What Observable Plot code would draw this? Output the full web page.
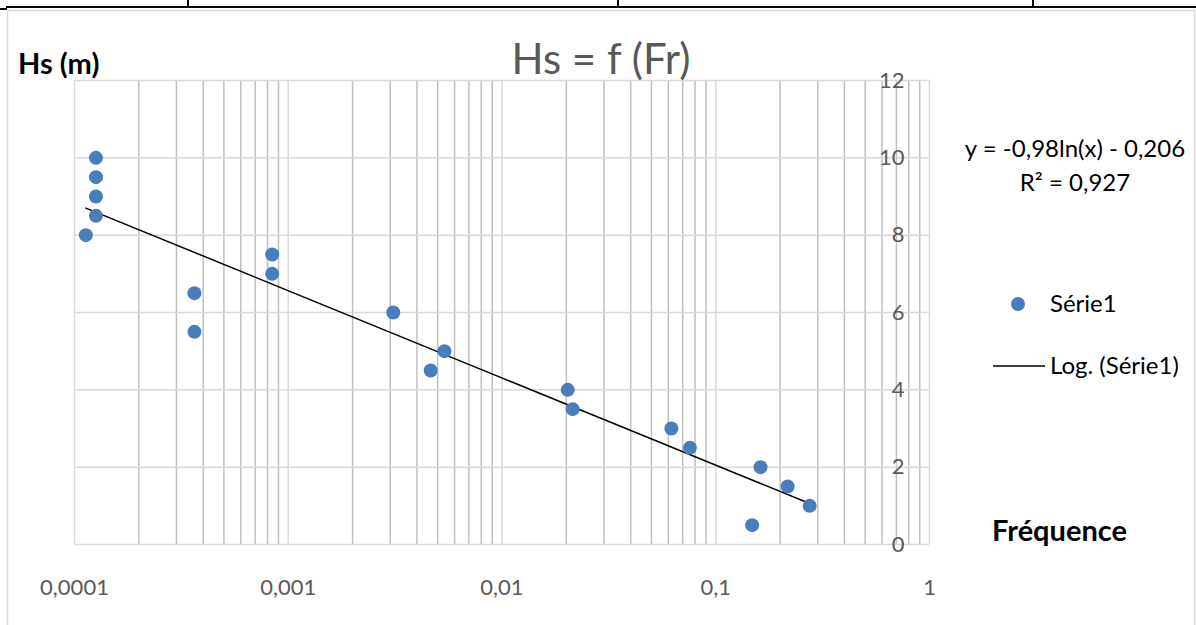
<!DOCTYPE html>
<html><head><meta charset="utf-8">
<script src="https://cdn.jsdelivr.net/npm/d3@7"></script>
<script src="https://cdn.jsdelivr.net/npm/@observablehq/plot@0.6"></script>
<style>
body{margin:0;background:#fff;overflow:hidden}
#wrap{position:relative;width:1196px;height:625px;overflow:hidden;background:#fff}
#wrap svg{position:absolute;left:0;top:0}
</style></head><body><div id="wrap"></div>
<script>
// Data
const freq = [0.000126, 0.000126, 0.000126, 0.000126, 0.000113, 0.000364, 0.000364, 0.000841, 0.000841, 0.0031, 0.00464, 0.00538, 0.0203, 0.0214, 0.062, 0.0757, 0.162, 0.217, 0.275, 0.148];
const hs   = [10, 9.5, 9, 8.5, 8, 6.5, 5.5, 7.5, 7, 6, 4.5, 5, 4, 3.5, 3, 2.5, 2, 1.5, 1, 0.5];
const trendX = [0.000113, 0.275];
const trendY = [8.70, 1.06];
const xTickValues = [0.0001, 0.001, 0.01, 0.1, 1];
const xTickLabels = ["0,0001", "0,001", "0,01", "0,1", "1"];
const yTickValues = [0, 2, 4, 6, 8, 10, 12];
const mult = [2, 3, 4, 5, 6, 7, 8, 9];

const points = freq.map((f, i) => ({x: f, y: hs[i]}));
const trend = trendX.map((t, i) => ({x: t, y: trendY[i]}));
const minor = xTickValues.slice(0, -1).flatMap(d => mult.map(m => m * d));

const chart = Plot.plot({
  width: 1196, height: 625,
  marginLeft: 74, marginRight: 267, marginTop: 80, marginBottom: 81,
  x: {type: "log", domain: [1e-4, 1]},
  y: {domain: [0, 12]},
  style: {fontFamily: "Lato, sans-serif", fontSize: "22px", color: "#595959", background: "transparent"},
  marks: [
    Plot.ruleX(minor, {stroke: "#bfbfbf", strokeWidth: 1.5}),
    Plot.ruleX(xTickValues, {stroke: "#d9d9d9", strokeWidth: 1.5}),
    Plot.ruleY(yTickValues, {stroke: "#d9d9d9", strokeWidth: 1.5}),
    Plot.axisX({ticks: xTickValues, tickFormat: d => xTickLabels[xTickValues.indexOf(d)], tickSize: 0, tickPadding: 35, label: null, fill: "#595959"}),
    Plot.axisY({ticks: yTickValues, anchor: "right", tickSize: 0, tickPadding: 0, textAnchor: "end", dx: -25, label: null, fill: "#595959"}),
    Plot.line(trend, {x: "x", y: "y", stroke: "black", strokeWidth: 1.5}),
    Plot.dot(points, {x: "x", y: "y", r: 7, fill: "#4a7ebb", stroke: "none"})
  ]
});
const wrap = document.getElementById("wrap");
wrap.appendChild(chart);

// Overlay: frame, titles, legend, equation
const ov = d3.select(wrap).append("svg").attr("width", 1196).attr("height", 625)
  .style("font-family", "Lato, sans-serif");
// table borders
ov.append("line").attr("x1", 6).attr("x2", 1196).attr("y1", 7).attr("y2", 7).attr("stroke", "#000").attr("stroke-width", 2);
ov.append("line").attr("x1", 0).attr("x2", 7).attr("y1", 9).attr("y2", 9).attr("stroke", "#000").attr("stroke-width", 2);
for (const vx of [188, 618, 1033]) ov.append("line").attr("x1", vx).attr("x2", vx).attr("y1", 0).attr("y2", 7).attr("stroke", "#000").attr("stroke-width", 2);
// chart frame
ov.append("path").attr("d", "M7.5,625V10.5H1194.5V625").attr("fill", "none").attr("stroke", "#d9d9d9").attr("stroke-width", 1.5);

ov.append("text").attr("x", 601).attr("y", 74).attr("text-anchor", "middle").attr("font-size", 42).attr("fill", "#595959").text("Hs = f (Fr)");
ov.append("text").attr("x", 18).attr("y", 74).attr("font-size", 29).attr("font-weight", "bold").attr("fill", "#000").text("Hs (m)");
ov.append("text").attr("x", 1075).attr("y", 157).attr("text-anchor", "middle").attr("font-size", 24).attr("fill", "#000").text("y = -0,98ln(x) - 0,206");
ov.append("text").attr("x", 1075).attr("y", 191).attr("text-anchor", "middle").attr("font-size", 24).attr("fill", "#000").text("R² = 0,927");
ov.append("circle").attr("cx", 1018).attr("cy", 304).attr("r", 7).attr("fill", "#4a7ebb");
ov.append("text").attr("x", 1050).attr("y", 312).attr("font-size", 24).attr("fill", "#000").text("Série1");
ov.append("line").attr("x1", 993).attr("x2", 1045).attr("y1", 366).attr("y2", 366).attr("stroke", "#000").attr("stroke-width", 1.5);
ov.append("text").attr("x", 1050).attr("y", 374).attr("font-size", 24).attr("fill", "#000").text("Log. (Série1)");
ov.append("text").attr("x", 992).attr("y", 541).attr("font-size", 29).attr("font-weight", "bold").attr("fill", "#000").text("Fréquence");
</script></body></html>
